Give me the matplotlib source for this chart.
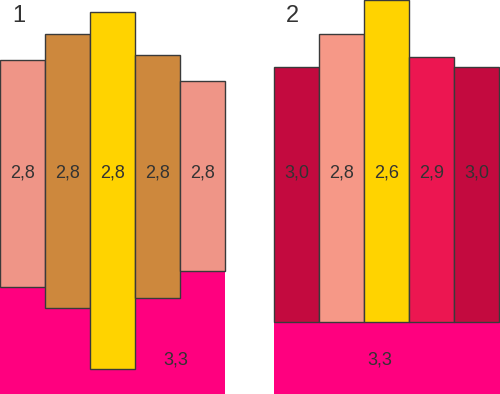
import matplotlib.pyplot as plt

plt.rcParams['font.family'] = ['Liberation Sans', 'DejaVu Sans']

# Panel 1 (heights in picture units, measured from bottom)
p1_labels = ["2,8", "2,8", "2,8", "2,8", "2,8"]
p1_bottoms = [107, 86, 25, 96, 123]
p1_tops = [334, 360, 382, 339, 313]
p1_colors = ["#EF9587", "#CD883D", "#FFD300", "#CD883D", "#EF9587"]
p1_base_label = "3,3"
p1_base_top = 123

# Panel 2
p2_labels = ["3,0", "2,8", "2,6", "2,9", "3,0"]
p2_bottoms = [72, 72, 72, 72, 72]
p2_tops = [327, 360, 394, 337, 327]
p2_colors = ["#C30A3F", "#F69887", "#FFD300", "#EC1651", "#C30A3F"]
p2_base_label = "3,3"
p2_base_top = 72

BASE_COLOR = "#FF007F"
TEXT_COLOR = "#333333"

fig = plt.figure(figsize=(5, 3.94), dpi=100)

def draw_panel(ax, title, title_x, x0, labels, bottoms, tops, colors, base_label, base_top, base_w, base_lx):
  ax.set_xlim(0, 250); ax.set_ylim(0, 394)
  ax.axis("off")
  #Base block
  ax.bar(x0, base_top, width=base_w, bottom=0, align="edge",
         color=BASE_COLOR, linewidth=0, zorder=1)
  ax.text(base_lx, 34, base_label, ha="center", va="center", fontsize=13, color=TEXT_COLOR, zorder=5)
  #Bars
  xs = [x0 + 45 * i for i in range(len(labels))]
  heights = [t - b for t, b in zip(tops, bottoms)]
  ax.bar(xs, heights, width=45, bottom=bottoms, align="edge", color=colors,
         edgecolor="#3a3a3a", linewidth=1, zorder=2)
  for x, lab in zip(xs, labels):
    ax.text(x + 22.5, 221, lab, ha="center", va="center", fontsize=13, color=TEXT_COLOR, zorder=5)
  ax.text(title_x, 378, title, ha="center", va="center", fontsize=17, color=TEXT_COLOR)

ax1 = fig.add_axes([0, 0, 0.5, 1])
draw_panel(ax1, "1", 19, 0, p1_labels, p1_bottoms, p1_tops, p1_colors, p1_base_label, p1_base_top, 225, 176)
ax2 = fig.add_axes([0.5, 0, 0.5, 1])
draw_panel(ax2, "2", 42, 24, p2_labels, p2_bottoms, p2_tops, p2_colors, p2_base_label, p2_base_top, 226, 130)

fig.savefig("out.png", dpi=100)
